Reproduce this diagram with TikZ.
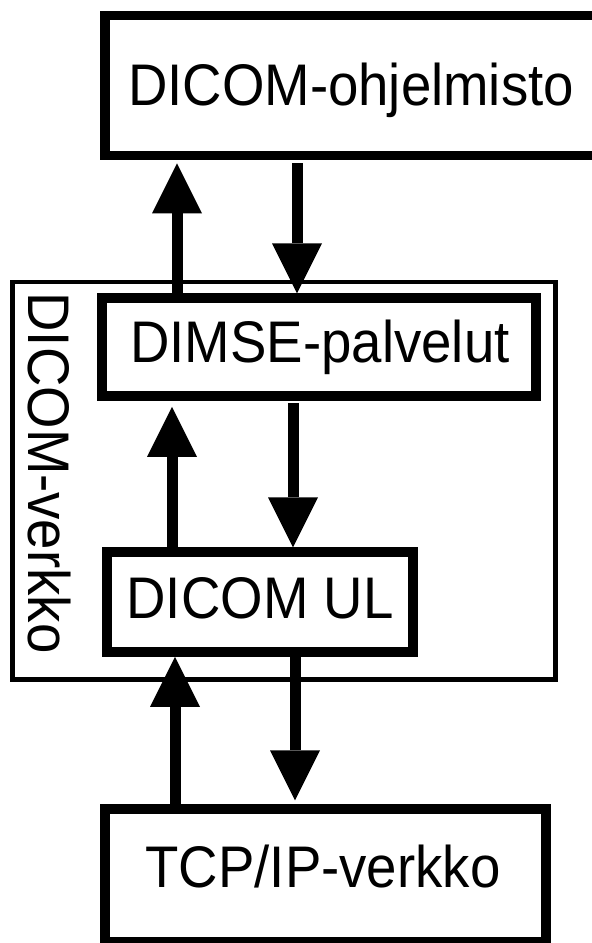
\documentclass[tikz,border=0pt]{standalone}
\usepackage{fontspec}
\setmainfont{Liberation Sans}[FakeStretch=0.93]
\usetikzlibrary{arrows.meta}
\begin{document}
\begin{tikzpicture}[x=1pt,y=-1pt,
  box/.style={draw, line width=9.5pt, fill=white, inner sep=0pt},
  frame/.style={draw, line width=4.5pt, inner sep=0pt},
  lbl/.style={font=\fontsize{58.7}{60}\selectfont, inner sep=0pt, anchor=base},
  arr/.style={line width=11pt, -{Triangle[length=50pt,width=50pt,line width=0pt]}}]
\useasboundingbox (0,0) rectangle (592,943);
\clip (0,0) rectangle (592,943);
% outer frame
\node[frame, minimum width=543pt, minimum height=397.5pt] (net) at (284,480.75) {};
% boxes
\node[box, minimum width=560pt, minimum height=140pt] (app) at (385,85.5) {};
\node[box, minimum width=434pt, minimum height=98pt] (dimse) at (319,347) {};
\node[box, minimum width=306pt, minimum height=100pt] (ul) at (260,602) {};
\node[box, minimum width=441pt, minimum height=133pt] (tcp) at (325.5,875.5) {};
% labels
\node[lbl] (tapp) at (351,105) {DICOM-ohjelmisto};
\node[lbl] (tdimse) at (320,362) {DIMSE-palvelut};
\node[lbl] (tul) at (260,618) {DICOM UL};
\node[lbl] (ttcp) at (323,887) {TCP/IP-verkko};
\node[lbl, rotate=-90] (tnet) at (28,473) {DICOM-verkko};
% arrow x positions
\coordinate (xa) at (177,0);
\coordinate (xb) at (297,0);
\coordinate (xc) at (172,0);
\coordinate (xd) at (293,0);
\coordinate (xe) at (175,0);
\coordinate (xf) at (295,0);
% arrows
\draw[arr, shorten >=3pt] (dimse.north -| xa) -- (app.south -| xa);
\draw[arr] ([yshift=-3pt]app.south -| xb) -- (dimse.north -| xb);
\draw[arr, shorten >=6pt] (ul.north -| xc) -- (dimse.south -| xc);
\draw[arr] ([yshift=-2pt]dimse.south -| xd) -- (ul.north -| xd);
\draw[arr] (tcp.north -| xe) -- (ul.south -| xe);
\draw[arr, shorten >=4pt] (ul.south -| xf) -- (tcp.north -| xf);
\end{tikzpicture}
\end{document}
